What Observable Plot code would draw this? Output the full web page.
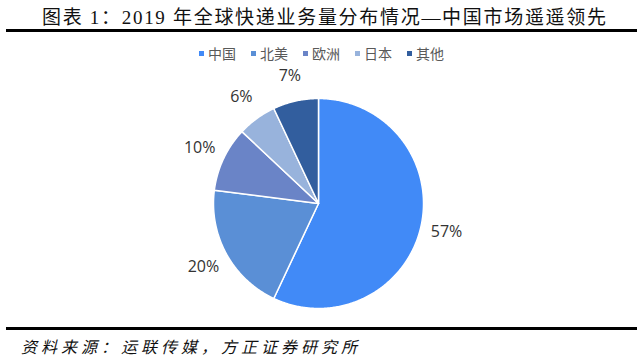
<!DOCTYPE html>
<html><head><meta charset="utf-8">
<script src="https://cdn.jsdelivr.net/npm/d3@7"></script>
<script src="https://cdn.jsdelivr.net/npm/@observablehq/plot@0.6"></script>
<style>
html,body{margin:0;padding:0;background:#fff;width:643px;height:360px;overflow:hidden;position:relative}
#title{position:absolute;left:42px;top:2px;font-family:"Liberation Serif","Noto Sans CJK SC",serif;font-size:19px;color:#111;white-space:nowrap;letter-spacing:1.7px}
.rule{position:absolute;left:6px;width:631px;background:#000}
#legend{position:absolute;top:43px;left:0;width:643px;display:flex;justify-content:center;font-family:"Noto Sans CJK SC",sans-serif;font-size:14px;color:#595959}
#legend .it{display:flex;align-items:center;margin:0 7.5px}
#legend .sw{width:5px;height:5px;margin-right:4px}
#chart{position:absolute;left:0;top:62px}
#caption{position:absolute;left:21px;top:334px;font-family:"Noto Sans CJK SC",sans-serif;font-style:italic;font-size:16px;color:#111;letter-spacing:4px;white-space:nowrap}
</style></head>
<body>
<div id="title">图表 1：2019 年全球快递业务量分布情况—中国市场遥遥领先</div>
<div class="rule" style="top:29px;height:3px"></div>
<div id="legend"></div>
<div id="chart"></div>
<div class="rule" style="top:327px;height:2.5px"></div>
<div id="caption">资料来源：运联传媒，方正证券研究所</div>
<script>
const categories = ["中国", "北美", "欧洲", "日本", "其他"];
const shares = [57, 20, 10, 6, 7];
const colors = ["#418AF7", "#5A8FD6", "#6A84C7", "#98B3DC", "#325E9E"];

// legend
const leg = document.getElementById("legend");
categories.forEach((c, i) => {
  const it = document.createElement("div"); it.className = "it";
  const sw = document.createElement("div"); sw.className = "sw"; sw.style.background = colors[i];
  const t = document.createElement("span"); t.textContent = c;
  it.appendChild(sw); it.appendChild(t); leg.appendChild(it);
});

// slices via d3.pie (clockwise from 12 o'clock)
const arcs = d3.pie().sort(null).value(d => d.v)(categories.map((c, i) => ({c, v: shares[i]})));
const pts = [];
const labels = [];
arcs.forEach(a => {
  const c = a.data.c;
  pts.push({c, x: 0, y: 0});
  const n = Math.max(2, Math.ceil((a.endAngle - a.startAngle) / 0.01));
  for (let k = 0; k <= n; k++) {
    const t = a.startAngle + (a.endAngle - a.startAngle) * k / n;
    pts.push({c, x: Math.sin(t), y: Math.cos(t)});
  }
  pts.push({c, x: 0, y: 0});
  const m = (a.startAngle + a.endAngle) / 2;
  labels.push({c, x: 1.25 * Math.sin(m), y: 1.25 * Math.cos(m), label: a.data.v + "%"});
});

const W = 643, H = 258, cx = 318, cy = 141, R = 105;
const chart = Plot.plot({
  width: W, height: H,
  margin: 0,
  x: {domain: [-cx / R, (W - cx) / R], axis: null},
  y: {domain: [-(H - cy) / R, cy / R], axis: null},
  color: {domain: categories, range: colors},
  style: {background: "transparent"},
  marks: [
    Plot.line(pts, {x: "x", y: "y", z: "c", fill: "c", stroke: "#fff", strokeWidth: 1.5, curve: "linear-closed"}),
    Plot.text(labels, {x: "x", y: "y", text: "label", fill: "#333", fontSize: 16, fontFamily: "'Open Sans','Noto Sans',sans-serif", textAnchor: "middle"})
  ]
});
document.getElementById("chart").appendChild(chart);
</script>
</body></html>
